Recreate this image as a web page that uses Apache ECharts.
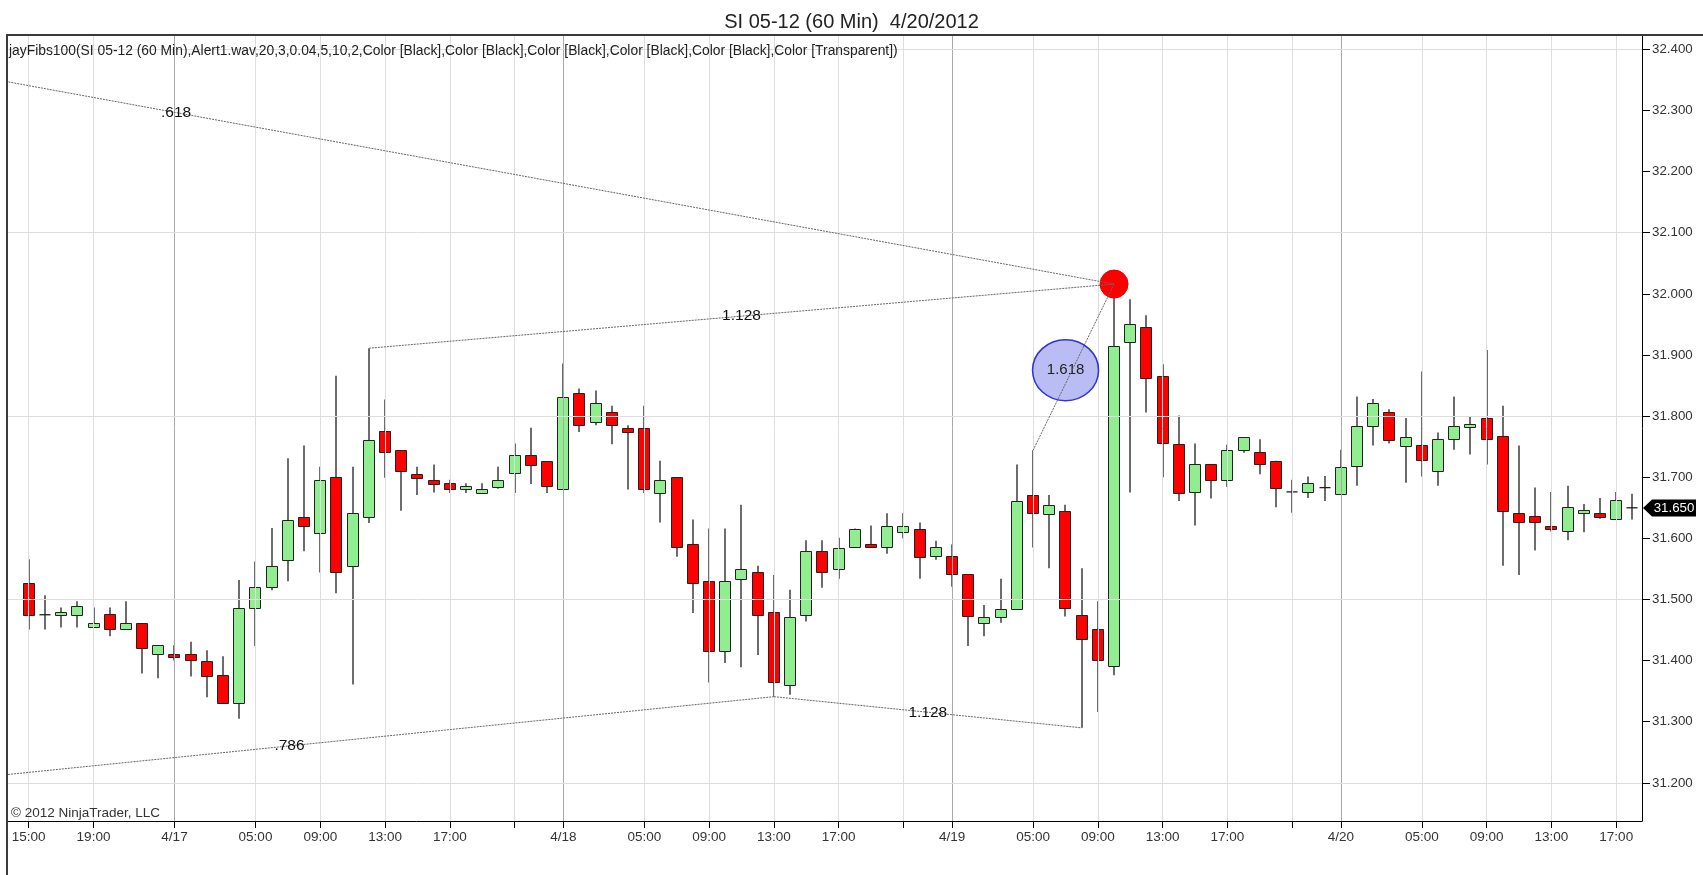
<!DOCTYPE html>
<html><head><meta charset="utf-8">
<script src="https://cdn.jsdelivr.net/npm/echarts@6/dist/echarts.min.js"></script>
<style>html,body{margin:0;padding:0;background:#fff}#c{width:1703px;height:875px}</style>
</head><body><div id="c"></div>
<script>
// ---------- data ----------
const tickIndex = [0,4,9,14,18,22,26,30,33,38,42,46,50,54,57,62,66,70,74,78,81,86,90,94,98];
const tickText  = ['15:00','19:00','4/17','05:00','09:00','13:00','17:00','','4/18','05:00','09:00','13:00','17:00','','4/19','05:00','09:00','13:00','17:00','','4/20','05:00','09:00','13:00','17:00'];
const priceTicks = [31.2,31.3,31.4,31.5,31.6,31.7,31.8,31.9,32.0,32.1,32.2,32.3,32.4];
const gridPrices = [31.2,31.5,31.8,32.1,32.4];

const openP = [31.527,31.475,31.475,31.475,31.455,31.476,31.451,31.461,31.410,31.410,
 31.410,31.400,31.376,31.331,31.485,31.520,31.565,31.635,31.610,31.700,
 31.555,31.635,31.775,31.744,31.706,31.696,31.690,31.681,31.675,31.685,
 31.706,31.736,31.726,31.681,31.837,31.790,31.806,31.781,31.781,31.675,
 31.700,31.590,31.531,31.416,31.534,31.545,31.479,31.361,31.475,31.579,
 31.550,31.586,31.590,31.586,31.611,31.616,31.571,31.571,31.541,31.462,
 31.472,31.485,31.671,31.641,31.645,31.475,31.451,31.391,31.921,31.945,
 31.865,31.755,31.675,31.721,31.695,31.744,31.741,31.727,31.676,31.676,
 31.683,31.673,31.717,31.783,31.807,31.752,31.752,31.710,31.762,31.783,
 31.797,31.767,31.642,31.636,31.621,31.611,31.642,31.642,31.631,31.650];
const highP = [31.566,31.507,31.487,31.497,31.487,31.487,31.497,31.461,31.425,31.425,
 31.431,31.417,31.407,31.532,31.562,31.617,31.731,31.752,31.717,31.866,
 31.717,31.911,31.827,31.744,31.717,31.721,31.696,31.690,31.690,31.717,
 31.755,31.781,31.726,31.886,31.845,31.842,31.817,31.785,31.817,31.727,
 31.700,31.631,31.616,31.616,31.655,31.555,31.540,31.516,31.597,31.597,
 31.601,31.616,31.621,31.641,31.641,31.626,31.596,31.590,31.541,31.491,
 31.534,31.721,31.744,31.671,31.655,31.551,31.497,32.000,31.991,31.965,
 31.885,31.801,31.755,31.721,31.753,31.765,31.762,31.727,31.696,31.701,
 31.702,31.745,31.832,31.828,31.811,31.797,31.873,31.773,31.832,31.800,
 31.908,31.817,31.752,31.683,31.676,31.686,31.656,31.666,31.676,31.673];
const lowP = [31.451,31.451,31.454,31.454,31.455,31.440,31.451,31.379,31.371,31.400,
 31.374,31.340,31.331,31.305,31.424,31.515,31.530,31.579,31.544,31.510,
 31.361,31.625,31.699,31.645,31.671,31.675,31.674,31.674,31.675,31.681,
 31.674,31.689,31.674,31.681,31.774,31.785,31.754,31.680,31.674,31.626,
 31.570,31.478,31.364,31.396,31.389,31.409,31.341,31.344,31.464,31.519,
 31.534,31.586,31.586,31.575,31.600,31.534,31.565,31.521,31.424,31.440,
 31.462,31.485,31.585,31.551,31.472,31.290,31.316,31.376,31.675,31.806,
 31.700,31.661,31.621,31.665,31.684,31.740,31.705,31.651,31.642,31.666,
 31.661,31.673,31.686,31.752,31.755,31.691,31.701,31.686,31.745,31.737,
 31.721,31.555,31.540,31.580,31.611,31.597,31.610,31.632,31.631,31.631];
const closeP = [31.475,31.475,31.480,31.490,31.461,31.451,31.461,31.420,31.425,31.406,
 31.400,31.376,31.331,31.486,31.520,31.555,31.630,31.620,31.696,31.545,
 31.641,31.761,31.741,31.710,31.700,31.690,31.681,31.686,31.681,31.696,
 31.736,31.720,31.685,31.831,31.785,31.821,31.785,31.775,31.681,31.696,
 31.585,31.526,31.416,31.531,31.550,31.475,31.364,31.472,31.579,31.545,
 31.585,31.616,31.586,31.621,31.621,31.571,31.586,31.541,31.472,31.472,
 31.485,31.661,31.641,31.655,31.486,31.435,31.401,31.915,31.950,31.862,
 31.755,31.675,31.721,31.695,31.744,31.765,31.721,31.683,31.676,31.691,
 31.683,31.717,31.783,31.821,31.762,31.766,31.727,31.762,31.783,31.787,
 31.762,31.645,31.627,31.627,31.617,31.651,31.646,31.635,31.662,31.650];

// Fibonacci projection segments: [barIndex, price] anchors
const fibNames = ['.618','1.128','.786','1.128','1.618'];
const fibFrom  = [[-48.8,32.577],[21,31.911],[-13.8,31.180],[46,31.341],[62,31.744]];
const fibTo    = [[67,32.016],[67,32.016],[46,31.341],[65,31.290],[67,32.016]];
const targetPoint = [67,32.016];
const lastPrice = 31.650;

// ---------- chart ----------
const FONT = "'Liberation Sans', Arial, sans-serif";
const chart = echarts.init(document.getElementById('c'), null, {renderer:'canvas'});

const isDay = t => t.indexOf('/') >= 0;
const gridLineData = tickIndex.map((v,k) => ({
  xAxis: v,
  lineStyle: {color: isDay(tickText[k]) ? '#a9a9a9' : '#dedede', width: 1, type: 'solid'}
})).concat(gridPrices.map(p => ({yAxis: p, lineStyle: {color: '#dedede', width: 1, type: 'solid'}})));

const fibSeries = fibNames.map((n, k) => ({
  type: 'line', name: 'fib' + k, data: [fibFrom[k], fibTo[k]],
  showSymbol: false, symbol: 'none', clip: true, silent: true, animation: false, z: 6,
  lineStyle: {color: '#666', width: 1, type: [2, 1]}
}));

const mid = k => [(fibFrom[k][0] + fibTo[k][0]) / 2, (fibFrom[k][1] + fibTo[k][1]) / 2];

const option = {
  animation: false,
  backgroundColor: '#fff',
  title: {
    text: 'SI 05-12 (60 Min)  4/20/2012', left: 'center', top: 7,
    textStyle: {fontSize: 20, fontWeight: 'normal', color: '#222', fontFamily: FONT}
  },
  grid: {left: 8, right: 61, top: 36, bottom: 54, show: false},
  xAxis: {
    type: 'value', min: -1.278, max: 99.59,
    axisLine: {show: true, onZero: false, lineStyle: {color: '#000', width: 1}},
    axisTick: {show: true, customValues: tickIndex, length: 7, lineStyle: {color: '#000'}},
    axisLabel: {customValues: tickIndex, formatter: v => tickText[tickIndex.indexOf(v)],
      color: '#333', fontSize: 13.5, fontFamily: FONT, margin: 9},
    splitLine: {show: false}
  },
  yAxis: {
    type: 'value', position: 'right', min: 31.1376, max: 32.4218, scale: true,
    axisLine: {show: true, onZero: false, lineStyle: {color: '#000', width: 1}},
    axisTick: {show: true, customValues: priceTicks, length: 8, lineStyle: {color: '#000'}},
    axisLabel: {customValues: priceTicks, formatter: v => v.toFixed(3),
      color: '#333', fontSize: 13.3, fontFamily: FONT, margin: 10},
    splitLine: {show: false}
  },
  graphic: [
    {type: 'polyline', z: 100, shape: {points: [[7, 875], [7, 35], [1703, 35]]},
      style: {stroke: '#3a3a3a', lineWidth: 2, fill: null}},
    {type: 'text', x: 9, y: 51, z: 100, style: {
      text: 'jayFibs100(SI 05-12 (60 Min),Alert1.wav,20,3,0.04,5,10,2,Color [Black],Color [Black],Color [Black],Color [Black],Color [Black],Color [Transparent])',
      fontSize: 13.85, fontFamily: FONT, fill: '#222', verticalAlign: 'middle'}},
    {type: 'text', x: 11, y: 813, z: 100, style: {
      text: '\u00a9 2012 NinjaTrader, LLC', fontSize: 13.5, fontFamily: FONT, fill: '#333', verticalAlign: 'middle'}}
  ],
  series: [
    {
      type: 'line', name: 'grid', data: [[0, 31.5]], showSymbol: false, symbol: 'none',
      lineStyle: {opacity: 0}, silent: true, z: 1,
      markLine: {silent: true, symbol: ['none', 'none'], label: {show: false}, animation: false, data: gridLineData}
    },
    {
      type: 'custom', name: 'SI', z: 3, clip: true,
      data: openP.map((o, i) => [i, o, closeP[i], lowP[i], highP[i]]),
      encode: {x: 0, y: [1, 2, 3, 4]},
      renderItem: function (params, api) {
        const i = api.value(0), o = api.value(1), c = api.value(2), l = api.value(3), h = api.value(4);
        const pH = api.coord([i, h]), pL = api.coord([i, l]);
        const pO = api.coord([i, o]), pC = api.coord([i, c]);
        let w = Math.round(api.size([1, 0])[0] * 0.68);
        if (w % 2 === 0) w -= 1;
        const x = Math.round(pH[0]);
        const children = [{
          type: 'line', shape: {x1: x, y1: pH[1], x2: x, y2: pL[1]},
          style: {stroke: '#1e1e1e', lineWidth: 1.3}
        }];
        if (o === c) {
          children.push({type: 'line', shape: {x1: x - w / 2, y1: pO[1], x2: x + w / 2, y2: pO[1]},
            style: {stroke: '#1e1e1e', lineWidth: 1.3}});
        } else {
          const top = Math.min(pO[1], pC[1]), bot = Math.max(pO[1], pC[1]);
          const hh = Math.max(bot - top, 3);
          children.push({type: 'rect',
            shape: {x: x - w / 2, y: Math.round(top) + 0.5, width: w, height: Math.round(hh)},
            style: {fill: c > o ? '#90ee90' : '#ff0000', stroke: '#222', lineWidth: 1}});
        }
        return {type: 'group', children: children};
      }
    },
    {
      type: 'scatter', name: 'target', z: 5, silent: true,
      data: [targetPoint], symbol: 'circle', symbolSize: 28,
      itemStyle: {color: '#ff0000', opacity: 1, borderColor: '#e00000', borderWidth: 1}
    },
    {
      type: 'scatter', name: 'ellipse', z: 5, silent: true,
      data: [{value: mid(4), name: fibNames[4]}], symbol: 'circle', symbolSize: [66, 61], symbolOffset: [-8, 3],
      itemStyle: {color: '#b9bdf3', opacity: 1, borderColor: '#3434d2', borderWidth: 1.5},
      label: {show: true, position: 'inside', formatter: '{b}', color: '#222', fontSize: 15, fontFamily: FONT}
    },
    ...fibSeries,
    {
      type: 'scatter', name: 'fibLabels', z: 8, silent: true,
      data: [0, 1, 2, 3].map(k => ({value: mid(k), name: fibNames[k]})),
      symbol: 'circle', symbolSize: 1, itemStyle: {color: 'rgba(0,0,0,0)', opacity: 1},
      label: {show: true, position: 'inside', formatter: '{b}', color: '#111', fontSize: 15.5, fontFamily: FONT}
    },
    {
      type: 'custom', name: 'last', z: 20, clip: false, silent: true,
      data: [[openP.length - 1, lastPrice]],
      renderItem: function (params, api) {
        const p = api.coord([api.value(0), api.value(1)]);
        const ax = params.coordSys.x + params.coordSys.width;
        const y = Math.round(p[1]);
        return {type: 'group', children: [
          {type: 'polygon', shape: {points: [[ax + 1, y], [ax + 10, y - 8.5], [ax + 54, y - 8.5], [ax + 54, y + 8.5], [ax + 10, y + 8.5]]},
            style: {fill: '#000'}},
          {type: 'text', x: ax + 32, y: y, style: {text: api.value(1).toFixed(3), fill: '#fff', fontSize: 13.3,
            fontFamily: FONT, align: 'center', verticalAlign: 'middle'}}
        ]};
      }
    }
  ]
};
chart.setOption(option);
</script>
</body></html>
